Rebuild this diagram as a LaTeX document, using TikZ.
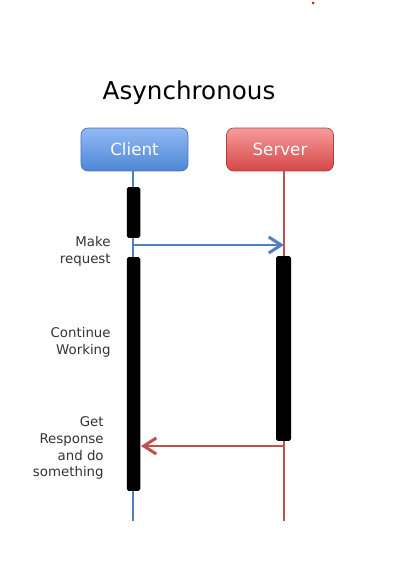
\documentclass[tikz,border=0pt]{standalone}
\usepackage{fontspec}
\setmainfont{DejaVu Sans}
\usetikzlibrary{arrows.meta}

\definecolor{cblue}{RGB}{79,129,189}
\definecolor{cbluetop}{RGB}{146,186,244}
\definecolor{cbluebot}{RGB}{78,134,214}
\definecolor{cred}{RGB}{192,80,77}
\definecolor{credtop}{RGB}{246,156,156}
\definecolor{credbot}{RGB}{214,70,70}

\begin{document}
\begin{tikzpicture}[x=0.02cm,y=-0.02cm,
    actor/.style={rounded corners=4pt,minimum width=2.14cm,minimum height=0.86cm,
        text=white,font=\fontsize{9.5}{11}\selectfont,inner sep=0pt},
    bar/.style={fill=black,rounded corners=1pt,minimum width=0.27cm,inner sep=0pt},
    note/.style={align=right,anchor=east,inner sep=0pt,font=\fontsize{7.6}{9.6}\selectfont,text=black!80},
    msg/.style={line width=1.7pt,-{Straight Barb[length=2.5mm,width=3.2mm,line width=1.7pt]}}]
    \useasboundingbox (0,0) rectangle (414,564);
    \fill[red] (313,3) circle (1.5);

    \node[font=\fontsize{14}{17}\selectfont] (title) at (189,93) {Asynchronous};

    \node[actor,draw=cbluebot!85!black,top color=cbluetop,bottom color=cbluebot] (client) at (134.5,149.5) {Client};
    \node[actor,draw=credbot!85!black,top color=credtop,bottom color=credbot] (server) at (280,149.5) {Server};

    % lifelines
    \coordinate (cend) at (133,521);
    \coordinate (send) at (284,521);
    \draw[cblue,line width=1.6pt] (client.south -| cend) -- (cend);
    \draw[cred,line width=1.6pt] (server.south -| send) -- (send);

    % activations
    \node[bar,minimum height=1.02cm] (c1) at (133.5,212.5) {};
    \node[bar,minimum height=4.68cm] (c2) at (133.5,374) {};
    \node[bar,minimum height=3.7cm,minimum width=0.3cm] (s1) at (283.5,348.5) {};

    % messages
    \coordinate (reqA) at (133,245);
    \coordinate (reqB) at (284,245);
    \coordinate (resA) at (284,446);
    \coordinate (resB) at (141,446);
    \draw[msg,cblue] (reqA) -- (reqB);
    \draw[msg,cred] (resA) -- (resB);

    \node[note] (make) at (111,251) {Make\\request};
    \node[note] (cont) at (111,342) {Continue\\Working};
    \node[note] (get) at (104,448) {Get\\Response\\and do\\something};
\end{tikzpicture}
\end{document}
